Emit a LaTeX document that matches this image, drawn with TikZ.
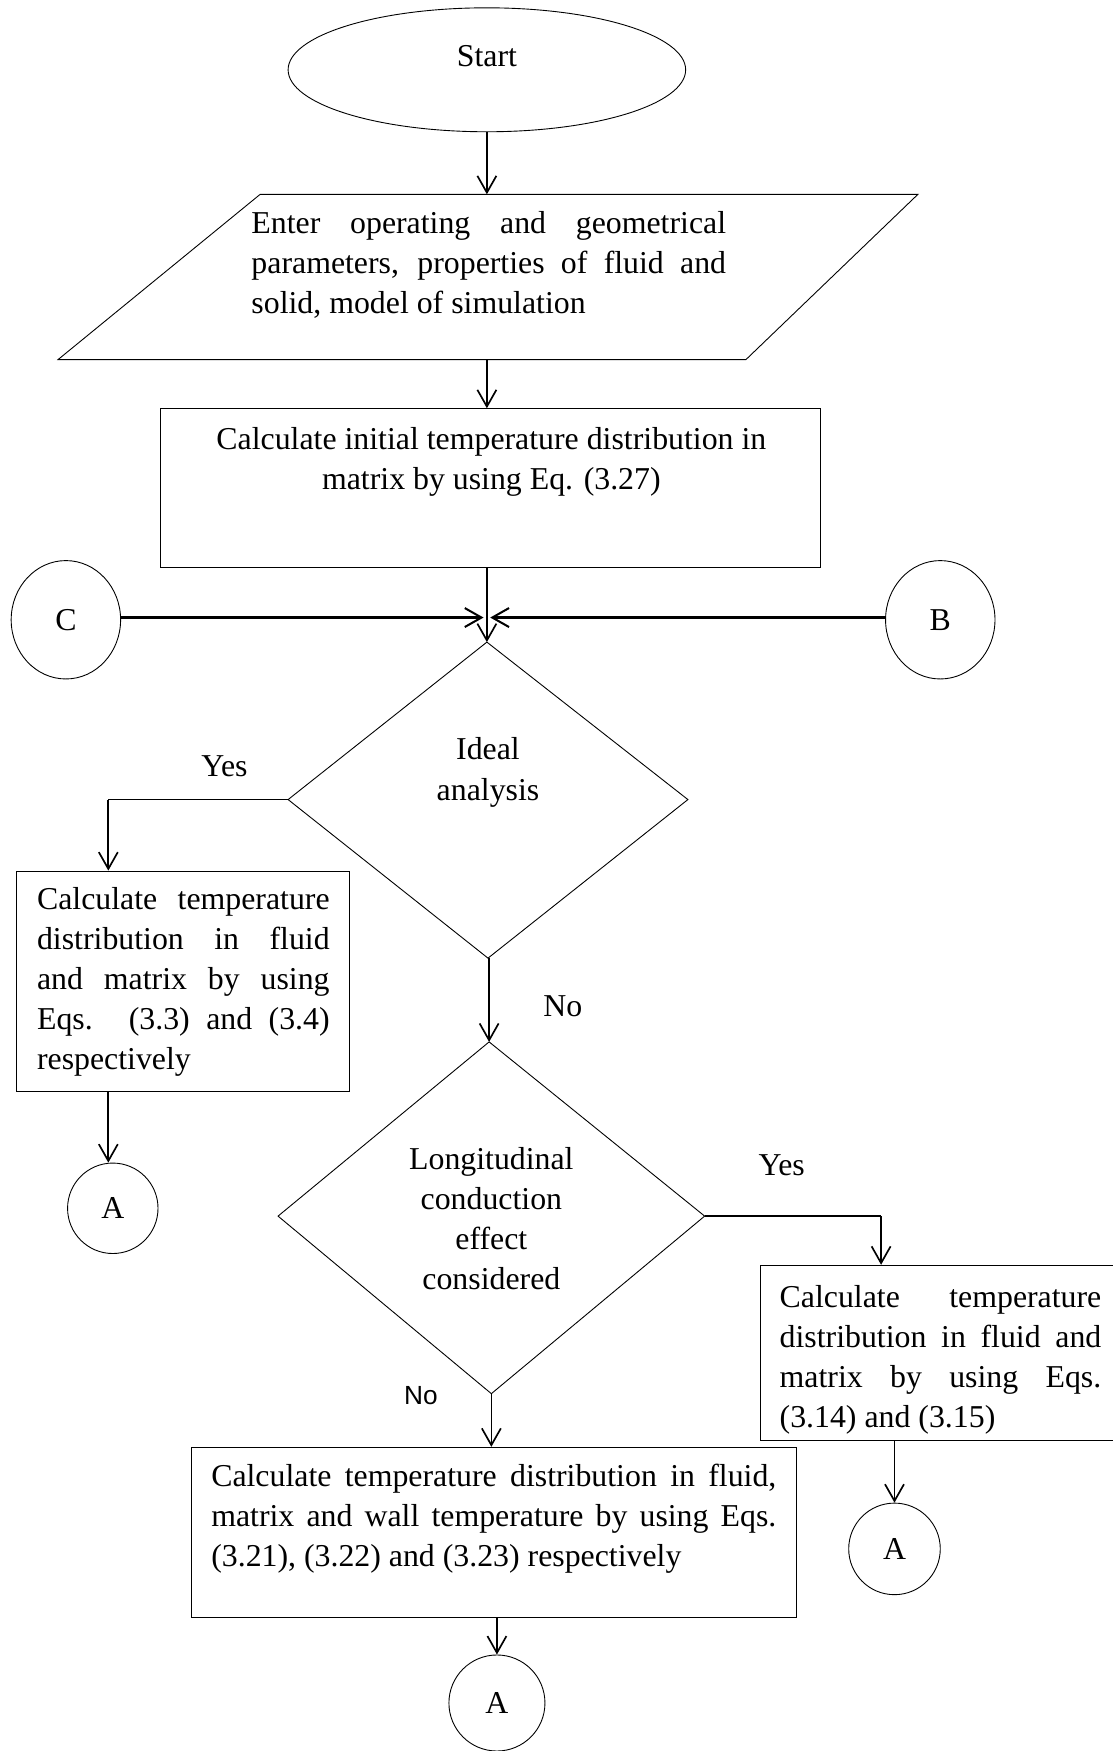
\documentclass[tikz,border=0pt]{standalone}
\usepackage{fontspec}
\setmainfont{Liberation Serif}
\newfontfamily\arialf{Liberation Sans}
\usetikzlibrary{arrows.meta,shapes.geometric}
\newcommand{\jl}[1]{\makebox[\linewidth][s]{#1}}
\begin{document}
\begin{tikzpicture}[x=1pt,y=-1pt,
  outl/.style={draw,line width=0.8pt},
  conn/.style={line width=1.5pt,-{Straight Barb[length=15pt,width=17pt,line width=1.5pt]}},
  thickconn/.style={line width=2.4pt,-{Straight Barb[length=15pt,width=17pt,line width=1.8pt]}},
  plain/.style={line width=1.5pt},
  txt/.style={inner sep=0pt,font=\fontsize{28.5}{35.8}\selectfont},
  lbl/.style={inner sep=0pt,font=\fontsize{28.5}{35.8}\selectfont,anchor=base},
  circ/.style={circle,outl,inner sep=0pt,font=\fontsize{28.5}{35.8}\selectfont},
  ell/.style={ellipse,outl,inner sep=0pt,font=\fontsize{28.5}{35.8}\selectfont},
  box/.style={rectangle,outl,inner sep=0pt}
]
\useasboundingbox (0,0) rectangle (996,1568);
\fill[white] (0,0) rectangle (996,1568);

% Start
\node[ell,minimum width=356pt,minimum height=111pt] (start) at (436,62.5) {};
\node[lbl] (starttxt) at (436,59.5) {Start};

% Parallelogram
\coordinate (pTL) at (233,174);
\coordinate (pTR) at (822,174);
\coordinate (pBR) at (668,322);
\coordinate (pBL) at (52,322);
\draw[line width=0.8pt] (pTL) -- (pTR) -- (pBR) -- (pBL) -- cycle;
\coordinate (ptop) at (436,174);
\coordinate (pbot) at (436,322);
\node[txt,anchor=base west] (ptxt) at (225,209.5) {\parbox[t]{425pt}{%
\jl{Enter operating and geometrical}\\
\jl{parameters, properties of fluid and}\\
solid, model of simulation}};

% Initial rectangle
\node[box,minimum width=591pt,minimum height=142pt] (init) at (439.5,437) {};
\node[txt,anchor=base] (inittxt) at (440,402.5) {\parbox[t]{580pt}{\centering
Calculate initial temperature distribution in\\
matrix by using Eq. (3.27)}};

% C and B connectors
\node[ell,minimum width=98pt,minimum height=106pt] (C) at (59,555) {C};
\node[ell,minimum width=98pt,minimum height=106pt] (B) at (842,555) {B};
\coordinate (jL) at (433,553);
\coordinate (jR) at (439,553);

% Diamond 1
\coordinate (d1t) at (436,575);
\coordinate (d1l) at (258,716);
\coordinate (d1r) at (616,716);
\coordinate (d1b) at (437,858);
\draw[line width=0.8pt] (d1t) -- (d1r) -- (d1b) -- (d1l) -- cycle;
\node[lbl] (d1a) at (437,680.5) {Ideal};
\node[lbl] (d1c) at (437,716.5) {analysis};

% Left branch
\node[lbl] (yes1) at (201,695.5) {Yes};
\coordinate (yl) at (97,716);
\node[box,minimum width=298pt,minimum height=197pt] (lbox) at (164,878.5) {};
\node[txt,anchor=base west] (ltxt) at (33,814.5) {\parbox[t]{262pt}{%
\jl{Calculate temperature}\\
\jl{distribution in fluid}\\
\jl{and matrix by using}\\
\jl{Eqs. (3.3) and (3.4)}\\
respectively}};
\node[circ,minimum size=81pt] (A1) at (101,1082) {A};

% Diamond 2
\node[lbl] (no1) at (504,910.5) {No};
\coordinate (d2t) at (438,933);
\coordinate (d2l) at (249,1089);
\coordinate (d2r) at (631,1089);
\coordinate (d2b) at (440,1248);
\draw[line width=0.8pt] (d2t) -- (d2r) -- (d2b) -- (d2l) -- cycle;
\node[txt,anchor=base] (d2txt) at (440,1047.5) {\parbox[t]{250pt}{\centering
Longitudinal\\ conduction\\ effect\\ considered}};

% Right branch
\node[lbl] (yes2) at (700,1052.5) {Yes};
\coordinate (yr) at (789,1089);
\node[box,minimum width=319pt,minimum height=157pt] (rbox) at (840.5,1211.5) {};
\node[txt,anchor=base west] (rtxt) at (698,1170.5) {\parbox[t]{288pt}{%
\jl{Calculate temperature}\\
\jl{distribution in fluid and}\\
\jl{matrix by using Eqs.}\\
(3.14) and (3.15)}};
\node[circ,minimum size=82pt] (A2) at (801,1387) {A};

% Bottom branch
\node[inner sep=0pt,anchor=base,font=\arialf\fontsize{23.5}{26}\selectfont] (no2) at (377,1258) {No};
\node[box,minimum width=542pt,minimum height=152pt] (bbox) at (442,1372) {};
\node[txt,anchor=base west] (btxt) at (189,1331.5) {\parbox[t]{506pt}{%
\jl{Calculate temperature distribution in fluid,}\\
\jl{matrix and wall temperature by using Eqs.}\\
(3.21), (3.22) and (3.23) respectively}};
\node[circ,minimum size=86pt] (A3) at (445,1525) {A};

% Connectors
\draw[conn] (start.south) -- (ptop);
\draw[conn] (pbot) -- (pbot |- init.north);
\draw[conn] (d1t |- init.south) -- (d1t);
\draw[thickconn] (C.east |- jL) -- (jL);
\draw[thickconn] (B.west |- jR) -- (jR);
\draw[plain] (d1l) -- (yl);
\draw[conn] (yl) -- (yl |- lbox.north);
\draw[conn] (yl |- lbox.south) -- (A1.north -| yl);
\draw[conn] (d2t |- d1b) -- (d2t);
\draw[plain] (d2r) -- (yr);
\draw[conn] (yr) -- (yr |- rbox.north);
\draw[conn] (A2 |- rbox.south) -- (A2.north);
\draw[conn] (d2b) -- (d2b |- bbox.north);
\draw[conn] (A3 |- bbox.south) -- (A3.north);
\end{tikzpicture}
\end{document}
